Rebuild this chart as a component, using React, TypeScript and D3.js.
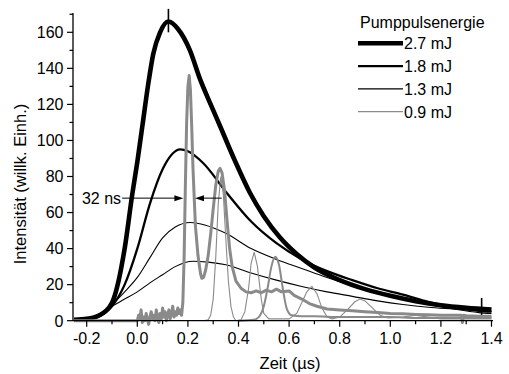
import React from 'react';
import * as d3 from 'd3';

// ---- data ----
const xTicks = [-0.2, 0, 0.2, 0.4, 0.6, 0.8, 1.0, 1.2, 1.4];
const xTickLabels = ['-0.2', '0.0', '0.2', '0.4', '0.6', '0.8', '1.0', '1.2', '1.4'];
const xMinor = [-0.1, 0.1, 0.3, 0.5, 0.7, 0.9, 1.1, 1.3];
const yTicks = [0, 20, 40, 60, 80, 100, 120, 140, 160];
const yMinor = [10, 30, 50, 70, 90, 110, 130, 150, 170];

const legendLabels = ['2.7 mJ', '1.8 mJ', '1.3 mJ', '0.9 mJ'];

const env27: [number, number][] = [
  [-0.25, 0.5], [-0.2, 1], [-0.15, 3], [-0.1, 10], [-0.05, 40], [-0.02, 70], [0, 88], [0.02, 108],
  [0.044, 132], [0.063, 148], [0.09, 160], [0.123, 166], [0.16, 162], [0.208, 150], [0.248, 134],
  [0.29, 120], [0.327, 108], [0.385, 89], [0.445, 71], [0.5, 58], [0.565, 46], [0.63, 37], [0.7, 29.5],
  [0.8, 22.5], [0.9, 17.5], [1.0, 13.8], [1.1, 10.8], [1.2, 8.6], [1.3, 7.2], [1.4, 6.2],
];
// single-sample glitches in the 2.7 mJ trace
const glitches27: [number, number][][] = [
  [[0.123, 160], [0.123, 173]],
  [[1.361, 3], [1.361, 12.6]],
];
const env18: [number, number][] = [
  [-0.25, 0.3], [-0.2, 0.8], [-0.15, 2.5], [-0.1, 8], [-0.05, 20], [0, 40], [0.05, 65], [0.1, 84],
  [0.17, 95], [0.2, 94], [0.26, 87.5], [0.353, 71], [0.45, 55], [0.55, 43], [0.65, 34], [0.75, 27.5],
  [0.85, 22.5], [0.95, 18], [1.05, 14.5], [1.15, 10.5], [1.25, 7.5], [1.35, 5.5], [1.4, 5],
];
const env13: [number, number][] = [
  [-0.25, 0.3], [-0.2, 1], [-0.15, 3.5], [-0.1, 9], [-0.05, 16], [0, 24], [0.05, 35], [0.1, 46],
  [0.15, 52], [0.21, 54.5], [0.27, 53], [0.35, 48.5], [0.45, 40], [0.55, 34], [0.65, 29], [0.75, 24],
  [0.85, 19.5], [0.95, 15.5], [1.05, 12], [1.15, 9], [1.25, 6.5], [1.35, 4.5], [1.4, 4],
];
const env09: [number, number][] = [
  [-0.25, 0.3], [-0.2, 1], [-0.15, 3.5], [-0.1, 8], [-0.05, 12], [0, 16], [0.05, 21], [0.1, 25.5],
  [0.15, 30], [0.22, 33], [0.28, 32.5], [0.35, 31], [0.45, 26.5], [0.55, 22.5], [0.65, 19], [0.75, 16],
  [0.85, 13.5], [0.95, 11], [1.05, 9], [1.15, 7.5], [1.25, 6.5], [1.35, 5.5], [1.4, 5],
];

const noiseX = d3.range(0, 0.176, 0.005);
const noiseY = [0, 3, 1, 6, -1, 2, 0, 4, 1, -2, 2, 5, 1, 3, 0, 6, 2, -1, 4, 1, 7, 2, 5, 0, 3, 6, 1, 4, 8, 2, 5, 3, 7, 4, 6, 3];

const grayThick: [number, number][] = [
  [-0.25, 0], [-0.05, 0],
  ...noiseX.map((x, i) => [x, noiseY[i]] as [number, number]),
  [0.18, 10], [0.185, 35], [0.19, 75], [0.195, 110], [0.2, 130], [0.205, 136], [0.21, 128], [0.215, 108],
  [0.22, 85], [0.225, 68], [0.23, 52], [0.24, 36], [0.25, 26], [0.255, 23.5], [0.262, 24], [0.27, 28],
  [0.28, 36], [0.29, 48], [0.3, 62], [0.31, 75], [0.32, 83], [0.327, 84.5], [0.335, 82], [0.345, 72],
  [0.355, 55], [0.365, 40], [0.375, 30], [0.39, 22], [0.41, 18], [0.43, 16], [0.45, 15.5], [0.47, 16.5],
  [0.49, 15.5], [0.51, 17], [0.53, 16], [0.55, 17.5], [0.57, 16], [0.6, 16.5], [0.62, 14], [0.65, 12],
  [0.68, 9.5], [0.71, 8], [0.75, 6.5], [0.8, 6], [0.85, 5.5], [0.9, 5], [0.95, 4.5], [1.0, 4],
  [1.05, 3.8], [1.1, 3.5], [1.15, 3.3], [1.2, 3], [1.25, 3], [1.28, 3], [1.285, -1], [1.29, 3],
  [1.3, 2.8], [1.35, 2.5], [1.4, 2.5],
];
const grayMedium: [number, number][] = [
  [0.4, 0], [0.46, 0.5], [0.48, 2], [0.5, 8], [0.515, 18], [0.53, 30], [0.545, 35.5], [0.56, 31],
  [0.575, 18], [0.59, 7], [0.61, 3], [0.65, 2.5], [0.7, 2.5], [0.8, 2], [0.9, 2], [1.0, 2], [1.1, 1.5],
  [1.2, 1.5], [1.3, 1.5], [1.4, 1.5],
];
const grayThin: [number, number][] = [
  [0.26, 0], [0.28, 0.5], [0.29, 3], [0.3, 12], [0.31, 35], [0.32, 65], [0.33, 80], [0.34, 70],
  [0.35, 45], [0.36, 22], [0.37, 8], [0.38, 2], [0.39, 0], [0.41, 0.5], [0.425, 5], [0.44, 18],
  [0.45, 32], [0.462, 38], [0.475, 30], [0.49, 12], [0.5, 4], [0.52, 1], [0.6, 1], [0.63, 4], [0.65, 10],
  [0.67, 16], [0.69, 19], [0.71, 15], [0.73, 7], [0.75, 2], [0.77, 1], [0.8, 2], [0.83, 6], [0.86, 10.5],
  [0.88, 12], [0.9, 11], [0.93, 7], [0.96, 3], [0.99, 1.5], [1.05, 2], [1.1, 3], [1.15, 2], [1.2, 1],
  [1.3, 1], [1.4, 1],
];

// annotation
const fwhmLeft = 0.182;
const fwhmRight = 0.228;
const fwhmLevel = 68;
const fwhmLabel = '32 ns';

const FONT = '"Liberation Sans", Arial, sans-serif';

export default function App() {
  const W = 509, H = 374;
  const x = d3.scaleLinear().domain([-0.2, 1.4]).range([86.7, 491.5]);
  const xLeft = x.invert(73), xRight = x.invert(493);
  const y = d3.scaleLinear().domain([0, 160]).range([320.7, 32.3]);
  const yTop = y.invert(13);

  const line = d3.line<[number, number]>().x(d => x(d[0])).y(d => y(d[1])).curve(d3.curveMonotoneX);
  const lineLin = d3.line<[number, number]>().x(d => x(d[0])).y(d => y(d[1]));

  const gray = '#8a8a8a';
  const legendStyles = [
    { w: 4.4, c: '#000' },
    { w: 2.4, c: '#000' },
    { w: 1.2, c: '#000' },
    { w: 1.2, c: gray },
  ];

  const ay = y(fwhmLevel);
  const tipL = x(fwhmLeft), tipR = x(fwhmRight);
  const arrow = (tx: number, dir: number) =>
    `M${tx},${ay} L${tx - dir * 9},${ay - 3} L${tx - dir * 9},${ay + 3} Z`;

  return (
    <svg width={W} height={H} style={{ position: 'absolute', left: 0, top: 0, background: '#fff' }}
      fontFamily={FONT}>
      {/* black envelopes */}
      <path d={line(env09) || ''} fill="none" stroke="#000" strokeWidth={1.1} />
      <path d={line(env13) || ''} fill="none" stroke="#000" strokeWidth={1.1} />
      <path d={line(env18) || ''} fill="none" stroke="#000" strokeWidth={2.3} />
      <path d={line(env27) || ''} fill="none" stroke="#000" strokeWidth={4.6} />
      {glitches27.map((g, i) => (
        <path key={'gl' + i} d={lineLin(g) || ''} fill="none" stroke="#000" strokeWidth={1.6} />
      ))}
      {/* gray traces */}
      <path d={lineLin(grayThin) || ''} fill="none" stroke={gray} strokeWidth={1.1} />
      <path d={line(grayMedium) || ''} fill="none" stroke={gray} strokeWidth={2} />
      <path d={lineLin(grayThick) || ''} fill="none" stroke={gray} strokeWidth={3} strokeLinejoin="round" />

      {/* axes */}
      <line x1={x(xLeft)} x2={x(xRight)} y1={y(0)} y2={y(0)} stroke="#000" strokeWidth={1.3} />
      <line x1={x(xLeft)} x2={x(xLeft)} y1={y(0)} y2={y(yTop)} stroke="#000" strokeWidth={1.3} />
      {xTicks.map((t, i) => (
        <g key={'xt' + i}>
          <line x1={x(t)} x2={x(t)} y1={y(0)} y2={y(0) + 6} stroke="#000" strokeWidth={1.2} />
          <text x={x(t)} y={343.5} textAnchor="middle" fontSize={16}>{xTickLabels[i]}</text>
        </g>
      ))}
      {xMinor.map((t, i) => (
        <line key={'xm' + i} x1={x(t)} x2={x(t)} y1={y(0)} y2={y(0) + 3.5} stroke="#000" strokeWidth={1.2} />
      ))}
      {yTicks.map((t, i) => (
        <g key={'yt' + i}>
          <line x1={x(xLeft) - 6} x2={x(xLeft)} y1={y(t)} y2={y(t)} stroke="#000" strokeWidth={1.2} />
          <text x={63.5} y={y(t) + 5.8} textAnchor="end" fontSize={16}>{String(t)}</text>
        </g>
      ))}
      {yMinor.map((t, i) => (
        <line key={'ym' + i} x1={x(xLeft) - 3.5} x2={x(xLeft)} y1={y(t)} y2={y(t)} stroke="#000" strokeWidth={1.2} />
      ))}
      <text x={290} y={369} textAnchor="middle" fontSize={16.5}>Zeit (µs)</text>
      <text transform={`translate(26,184) rotate(-90)`} textAnchor="middle" fontSize={16.5}>
        Intensität (willk. Einh.)
      </text>

      {/* annotation */}
      <text x={x(-0.06) - 1} y={ay + 5.5} textAnchor="end" fontSize={16}>{fwhmLabel}</text>
      <line x1={x(-0.06)} x2={tipL - 8} y1={ay} y2={ay} stroke="#000" strokeWidth={1} />
      <path d={arrow(tipL, 1)} fill="#000" />
      <line x1={tipR + 8} x2={x(0.3336)} y1={ay} y2={ay} stroke="#000" strokeWidth={1} />
      <path d={arrow(tipR, -1)} fill="#000" />

      {/* legend */}
      <text x={360} y={28.3} fontSize={16}>Pumppulsenergie</text>
      {legendLabels.map((l, i) => {
        const ly = 43.3 + i * 22.8;
        return (
          <g key={'lg' + i}>
            <line x1={358} x2={403} y1={ly} y2={ly} stroke={legendStyles[i].c} strokeWidth={legendStyles[i].w} />
            <text x={404} y={ly + 6} fontSize={16}>{l}</text>
          </g>
        );
      })}
    </svg>
  );
}
